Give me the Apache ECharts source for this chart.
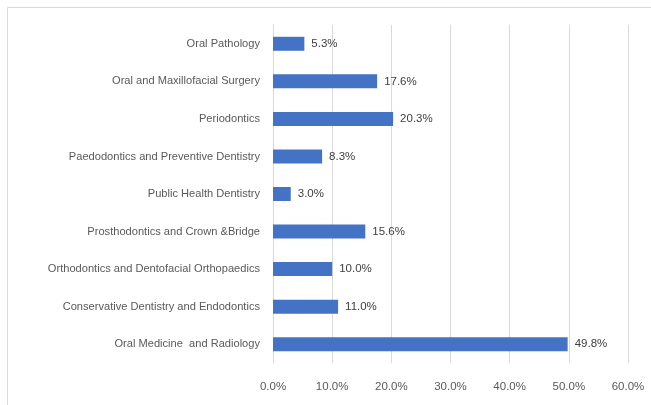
<!DOCTYPE html>
<html><head><meta charset="utf-8">
<script src="https://cdn.jsdelivr.net/npm/echarts@6/dist/echarts.min.js"></script>
<style>html,body{margin:0;padding:0;background:#fff}#c{width:651px;height:405px}</style>
</head><body><div id="c"></div>
<script>
const categories = ["Oral Pathology","Oral and Maxillofacial Surgery","Periodontics","Paedodontics and Preventive Dentistry","Public Health Dentistry","Prosthodontics and Crown &Bridge","Orthodontics and Dentofacial Orthopaedics","Conservative Dentistry and Endodontics","Oral Medicine  and Radiology"];
const values = [5.3,17.6,20.3,8.3,3.0,15.6,10.0,11.0,49.8];
const chart = echarts.init(document.getElementById('c'));
const font = 'Liberation Sans, Arial, sans-serif';
chart.setOption({
  animation:false,
  textStyle:{fontFamily:font},
  graphic:[{type:'rect',shape:{x:7.5,y:7.5,width:700,height:450},style:{fill:'none',stroke:'#d9d9d9',lineWidth:1},silent:true,z:-1}],
  grid:{left:273,right:23,top:25,bottom:42,containLabel:false},
  xAxis:{type:'value',min:0,max:60,interval:10,
    axisLine:{show:false},axisTick:{show:false},
    splitLine:{lineStyle:{color:'#d9d9d9'}},
    axisLabel:{formatter:v=>v.toFixed(1)+'%',color:'#595959',fontSize:11.5,margin:18,fontFamily:font}},
  yAxis:{type:'category',data:categories,inverse:true,
    axisLine:{show:true,lineStyle:{color:'#d9d9d9'}},axisTick:{show:false},
    axisLabel:{color:'#595959',fontSize:11.1,margin:13,fontFamily:font}},
  series:[{type:'bar',data:values,barWidth:14,itemStyle:{color:'#4472C4'},
    label:{show:true,position:'right',distance:7,color:'#404040',fontSize:11.5,fontFamily:font,formatter:p=>p.value.toFixed(1)+'%'}}]
});
</script></body></html>
